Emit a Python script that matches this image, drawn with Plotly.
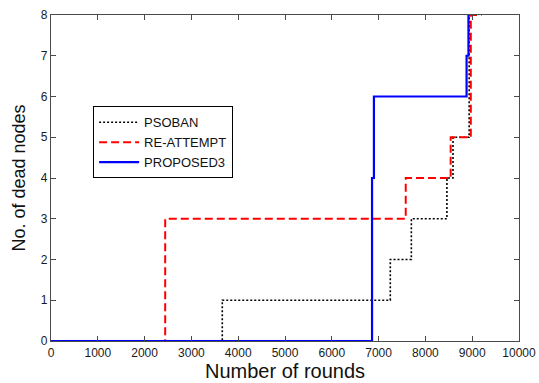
import plotly.graph_objects as go

# Step data (x = round at which a new step starts, y = dead nodes)
psoban_x = [0, 3660, 7250, 7700, 8460, 8590, 8935, 8960]
psoban_y = [0, 1, 2, 3, 4, 5, 8, 8]
reattempt_x = [0, 2440, 7580, 8540, 8970, 9200]
reattempt_y = [0, 3, 4, 5, 8, 8]
proposed_x = [0, 6860, 6900, 8880, 8920, 8940]
proposed_y = [0, 4, 6, 7, 8, 8]

x_ticks = [0, 1000, 2000, 3000, 4000, 5000, 6000, 7000, 8000, 9000, 10000]
y_ticks = [0, 1, 2, 3, 4, 5, 6, 7, 8]

FONT = "Arial, Liberation Sans, sans-serif"

fig = go.Figure()
fig.add_trace(go.Scatter(x=psoban_x, y=psoban_y, mode="lines", name="PSOBAN",
                         line=dict(color="black", width=1.6, dash="2px,2px", shape="hv")))
fig.add_trace(go.Scatter(x=reattempt_x, y=reattempt_y, mode="lines", name="RE-ATTEMPT",
                         line=dict(color="#ff0000", width=2, dash="8px,4px", shape="hv")))
fig.add_trace(go.Scatter(x=proposed_x, y=proposed_y, mode="lines", name="PROPOSED3",
                         line=dict(color="#0000ff", width=2.2, shape="hv")))

axis_common = dict(showgrid=False, zeroline=False, showline=True, mirror="ticks",
                   linecolor="#4a4a4a", linewidth=1.3, ticks="inside", ticklen=5,
                   tickcolor="#4a4a4a", automargin=False,
                   tickfont=dict(family=FONT, size=12, color="#1a1a1a"))

fig.update_xaxes(range=[0, 10000], tickvals=x_ticks, ticktext=[str(t) for t in x_ticks],
                 title=dict(text="Number of rounds", font=dict(family=FONT, size=20, color="#111"), standoff=2),
                 **axis_common)
fig.update_yaxes(range=[0, 8], tickvals=y_ticks,
                 title=dict(text="No. of dead nodes", font=dict(family=FONT, size=18, color="#111"), standoff=10),
                 **axis_common)

fig.update_layout(
    width=539, height=383,
    margin=dict(l=51, r=20, t=15, b=42),
    paper_bgcolor="white", plot_bgcolor="white",
    showlegend=True,
    legend=dict(x=0.09, y=0.72, xanchor="left", yanchor="top",
                bordercolor="black", borderwidth=1, bgcolor="white",
                font=dict(family=FONT, size=13, color="#111"),
                tracegroupgap=0, itemwidth=40),
)

fig.write_html("out.html")
